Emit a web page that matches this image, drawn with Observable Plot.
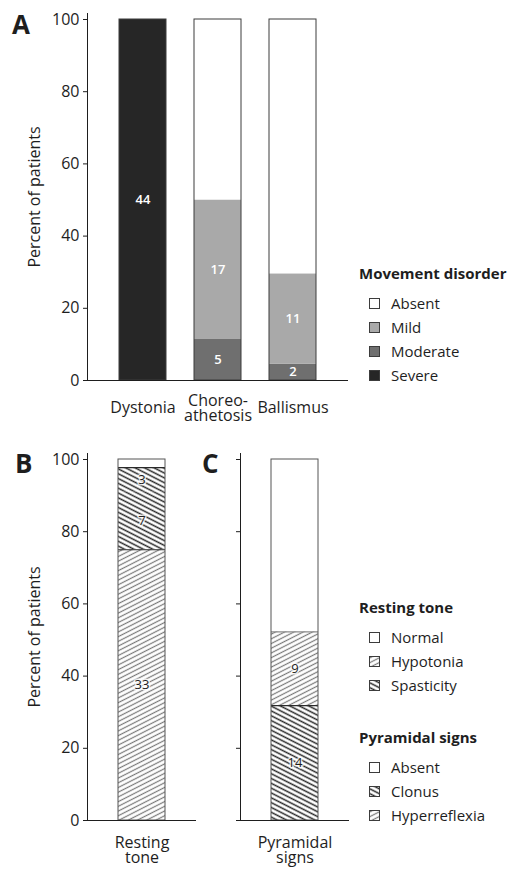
<!DOCTYPE html>
<html>
<head>
<meta charset="utf-8">
<script src="https://cdn.jsdelivr.net/npm/d3@7"></script>
<script src="https://cdn.jsdelivr.net/npm/@observablehq/plot@0.6"></script>
<style>
  body { margin: 0; background: #ffffff; }
  #page { position: relative; width: 526px; height: 881px; overflow: hidden; font-family: "Open Sans", sans-serif; color: #1e1e1e; }
  #page svg.plot-panel { position: absolute; left: 0; }
  .plabel { position: absolute; font: bold 26px/26px "Open Sans", sans-serif; color: #1e1e1e; }
  .legend { position: absolute; font-size: 15px; color: #1e1e1e; }
  .legend .ltitle { height: 24px; line-height: 24px; font-weight: bold; margin-bottom: 6px; white-space: nowrap; }
  .legend .lrow { height: 24px; line-height: 24px; display: flex; align-items: center; white-space: nowrap; }
  .legend .lrow svg { margin-left: 10px; margin-right: 11px; flex: none; }
</style>
</head>
<body>
<div id="page">
  <svg width="0" height="0" style="position:absolute">
    <defs>
      <pattern id="hatchLight" patternUnits="userSpaceOnUse" width="8" height="4.2" patternTransform="rotate(-27)">
        <rect width="8" height="4.2" fill="#ffffff"></rect>
        <line x1="0" y1="2.1" x2="8" y2="2.1" stroke="#7a7a7a" stroke-width="1.2"></line>
      </pattern>
      <pattern id="hatchDark" patternUnits="userSpaceOnUse" width="8" height="4.3" patternTransform="rotate(27)">
        <rect width="8" height="4.3" fill="#ffffff"></rect>
        <line x1="0" y1="2.15" x2="8" y2="2.15" stroke="#2a2a2a" stroke-width="1.5"></line>
      </pattern>
    </defs>
  </svg>
</div>
<script>
// ---------------- data ----------------
const N = 44; // patients
const yTicks = [0, 20, 40, 60, 80, 100];

const movementCategories = ["Dystonia", "Choreo-\nathetosis", "Ballismus"];
const movementLegend = ["Absent", "Mild", "Moderate", "Severe"];
const movementStack = ["Severe", "Moderate", "Mild", "Absent"]; // bottom to top
const dystoniaCounts = [44, 0, 0, 0];
const choreoathetosisCounts = [0, 5, 17, 22];
const ballismusCounts = [0, 2, 11, 31];

const restingCategory = "Resting\ntone";
const restingSegments = ["Hypotonia", "Spasticity", "Spasticity", "Normal"]; // bottom to top
const restingCounts = [33, 7, 3, 1];
const restingLegend = ["Normal", "Hypotonia", "Spasticity"];

const pyramidalCategory = "Pyramidal\nsigns";
const pyramidalSegments = ["Clonus", "Hyperreflexia", "Absent"]; // bottom to top
const pyramidalCounts = [14, 9, 21];
const pyramidalLegend = ["Absent", "Clonus", "Hyperreflexia"];

const unlabelledLevels = ["Absent", "Normal"];

// ---------------- styles ----------------
const movementFills = {Absent: "#ffffff", Mild: "#a9a9a9", Moderate: "#6f6f6f", Severe: "#262626"};
const patternFills = {Normal: "#ffffff", Absent: "#ffffff", Hypotonia: "url(#hatchLight)", Hyperreflexia: "url(#hatchLight)", Spasticity: "url(#hatchDark)", Clonus: "url(#hatchDark)"};
const edgeColors = {Hypotonia: "#2a2a2a", Spasticity: "#2a2a2a", Clonus: "#2a2a2a", Hyperreflexia: "#8c8c8c"};
const ink = "#1e1e1e";
const font = "'Open Sans', sans-serif";

// ---------------- tables ----------------
function buildTable(cat, levels, counts) {
  const rows = [];
  levels.forEach((level, j) => {
    if (counts[j] > 0) rows.push({cat, level, n: counts[j], pct: counts[j] / N * 100});
  });
  rows.forEach((r, j) => { r.edge = j < rows.length - 1 && rows[j + 1].level !== r.level; });
  return rows;
}
const tableA = [
  ...buildTable(movementCategories[0], movementStack, dystoniaCounts),
  ...buildTable(movementCategories[1], movementStack, choreoathetosisCounts),
  ...buildTable(movementCategories[2], movementStack, ballismusCounts)
];
const tableB = buildTable(restingCategory, restingSegments, restingCounts);
const tableC = buildTable(pyramidalCategory, pyramidalSegments, pyramidalCounts);
const labelled = d => !unlabelledLevels.includes(d.level);

const page = document.getElementById("page");
const svgStyle = {fontFamily: font, fontSize: "16px", color: ink, background: "none", overflow: "visible"};
const yScale = {domain: [0, 100], range: [380, 19]};

function place(svg, top) {
  svg.classList.add("plot-panel");
  svg.style.top = top + "px";
  page.appendChild(svg);
}

function edgeMarks(table) {
  const marks = [];
  for (const color of new Set(Object.values(edgeColors))) {
    marks.push(Plot.tickY(table, Plot.filter(d => d.edge && edgeColors[d.level] === color,
      Plot.stackY2({x: "cat", y: "pct", stroke: color, strokeWidth: 1.2}))));
  }
  return marks;
}

const xAxisOpts = {tickSize: 0, lineAnchor: "middle", fontSize: 16, lineHeight: 0.95, label: null};

// ---------------- panel A ----------------
const plotA = Plot.plot({
  width: 526, height: 440, marginTop: 13, marginBottom: 60, marginLeft: 87, marginRight: 178,
  style: svgStyle,
  x: {domain: movementCategories, range: [87, 348], paddingInner: 0.38, paddingOuter: 0.41},
  y: yScale,
  color: {domain: movementLegend, range: movementLegend.map(l => movementFills[l])},
  marks: [
    Plot.barY(tableA, Plot.stackY({x: "cat", y: "pct", fill: "level"})),
    Plot.barY(tableA, Plot.groupX({y: "sum"}, {x: "cat", y: "pct", fill: "none", stroke: "#3c3c3c", strokeWidth: 1})),
    Plot.text(tableA, Plot.filter(labelled, Plot.stackY({x: "cat", y: "pct", text: "n", fill: "white", fontSize: 13, fontWeight: 600}))),
    Plot.frame({anchor: "left", stroke: ink}),
    Plot.ruleY([0], {stroke: ink}),
    Plot.axisY({ticks: yTicks, tickSize: 4, tickPadding: 4, fontSize: 16, label: "Percent of patients", labelAnchor: "center", labelArrow: "none", labelOffset: 59}),
    Plot.axisX({...xAxisOpts, tickPadding: 28})
  ]
});
place(plotA, 0);

// ---------------- panel B ----------------
const plotB = Plot.plot({
  width: 526, height: 441, marginTop: 13, marginBottom: 61, marginLeft: 87, marginRight: 330,
  style: svgStyle,
  x: {domain: [restingCategory], range: [87, 196], paddingInner: 0.38, paddingOuter: 0.41},
  y: yScale,
  color: {domain: restingLegend, range: restingLegend.map(l => patternFills[l])},
  marks: [
    Plot.barY(tableB, Plot.stackY({x: "cat", y: "pct", fill: "level"})),
    ...edgeMarks(tableB),
    Plot.barY(tableB, Plot.groupX({y: "sum"}, {x: "cat", y: "pct", fill: "none", stroke: "#555", strokeWidth: 1})),
    Plot.text(tableB, Plot.filter(labelled, Plot.stackY({x: "cat", y: "pct", text: "n", fill: ink, stroke: "white", strokeWidth: 3, strokeOpacity: 0.75, fontSize: 13}))),
    Plot.frame({anchor: "left", stroke: ink}),
    Plot.ruleY([0], {stroke: ink}),
    Plot.axisY({ticks: yTicks, tickSize: 4, tickPadding: 4, fontSize: 16, label: "Percent of patients", labelAnchor: "center", labelArrow: "none", labelOffset: 59}),
    Plot.axisX({...xAxisOpts, tickPadding: 30})
  ]
});
place(plotB, 440);

// ---------------- panel C ----------------
const plotC = Plot.plot({
  width: 526, height: 441, marginTop: 13, marginBottom: 61, marginLeft: 240, marginRight: 177,
  style: svgStyle,
  x: {domain: [pyramidalCategory], range: [240, 349], paddingInner: 0.38, paddingOuter: 0.41},
  y: yScale,
  color: {domain: pyramidalLegend, range: pyramidalLegend.map(l => patternFills[l])},
  marks: [
    Plot.barY(tableC, Plot.stackY({x: "cat", y: "pct", fill: "level"})),
    ...edgeMarks(tableC),
    Plot.barY(tableC, Plot.groupX({y: "sum"}, {x: "cat", y: "pct", fill: "none", stroke: "#555", strokeWidth: 1})),
    Plot.text(tableC, Plot.filter(labelled, Plot.stackY({x: "cat", y: "pct", text: "n", fill: ink, stroke: "white", strokeWidth: 3, strokeOpacity: 0.75, fontSize: 13}))),
    Plot.frame({anchor: "left", stroke: ink}),
    Plot.ruleY([0], {stroke: ink}),
    Plot.axisY({ticks: yTicks, tickSize: 4, tickFormat: () => "", label: null}),
    Plot.axisX({...xAxisOpts, tickPadding: 30})
  ]
});
place(plotC, 440);

// ---------------- panel letters ----------------
function panelLetter(text, left, top) {
  const d = document.createElement("div");
  d.className = "plabel";
  d.textContent = text;
  d.style.left = left + "px";
  d.style.top = top + "px";
  page.appendChild(d);
}
panelLetter("A", 12, 11);
panelLetter("B", 15, 450);
panelLetter("C", 202, 450);

// ---------------- legends ----------------
function legend(title, items, fills, left, top) {
  const box = document.createElement("div");
  box.className = "legend";
  box.style.left = left + "px";
  box.style.top = top + "px";
  const t = document.createElement("div");
  t.className = "ltitle";
  t.textContent = title;
  box.appendChild(t);
  for (const item of items) {
    const row = document.createElement("div");
    row.className = "lrow";
    const ns = "http://www.w3.org/2000/svg";
    const sw = document.createElementNS(ns, "svg");
    sw.setAttribute("width", 11);
    sw.setAttribute("height", 11);
    const r = document.createElementNS(ns, "rect");
    r.setAttribute("x", 0.5); r.setAttribute("y", 0.5);
    r.setAttribute("width", 10); r.setAttribute("height", 10);
    r.setAttribute("fill", fills[item]);
    r.setAttribute("stroke", "#3c3c3c");
    r.setAttribute("stroke-width", 1);
    sw.appendChild(r);
    row.appendChild(sw);
    const s = document.createElement("span");
    s.textContent = item;
    row.appendChild(s);
    box.appendChild(row);
  }
  page.appendChild(box);
}
legend("Movement disorder", movementLegend, movementFills, 359, 261);
legend("Resting tone", restingLegend, patternFills, 359, 595);
legend("Pyramidal signs", pyramidalLegend, patternFills, 359, 725);
</script>
</body>
</html>
